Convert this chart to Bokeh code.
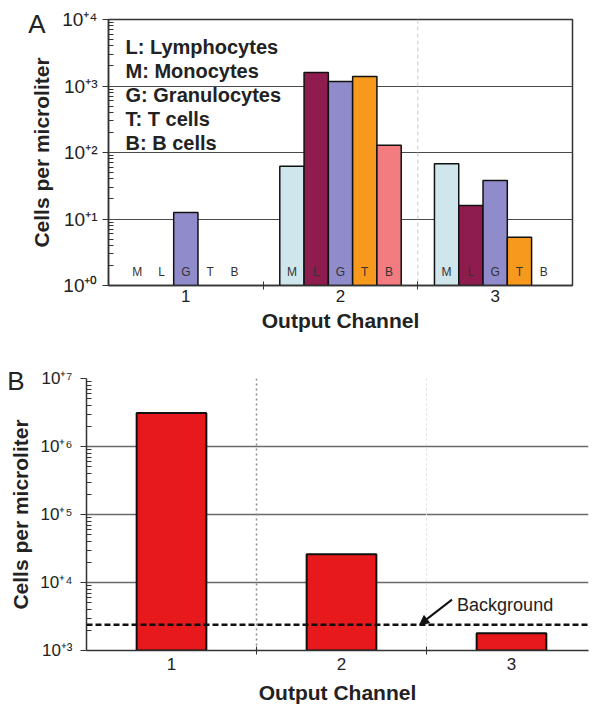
from bokeh.plotting import figure
from bokeh.models import FixedTicker, Label, Arrow, NormalHead, Span, LogAxis
from bokeh.core.properties import value
from bokeh.embed import file_html
from bokeh.resources import INLINE

# ---------------- data ----------------
channels = [1, 2, 3]
cell_types = ["M", "L", "G", "T", "B"]
legend_lines = ["L: Lymphocytes", "M: Monocytes", "G: Granulocytes",
                "T: T cells", "B: B cells"]
# Panel A: cells per microliter per channel, order M, L, G, T, B (0 = none)
counts_ch1 = [0, 0, 12.5, 0, 0]
counts_ch2 = [62, 1600, 1170, 1390, 128]
counts_ch3 = [68, 16, 38, 5.3, 0]
type_colors = ["#cfe7ec", "#8e1c4f", "#908bca", "#f7991c", "#f27c80"]

# Panel B: total cells per microliter per channel
total_counts = [3.1e6, 2.6e4, 1.8e3]
background_level = 2400

a_ticks = [1, 10, 100, 1000, 10000]
a_tick_labels = ["10⁺⁰", "10⁺¹", "10⁺²", "10⁺³", "10⁺⁴"]
b_ticks = [1e3, 1e4, 1e5, 1e6, 1e7]
b_tick_labels = ["10⁺³", "10⁺⁴", "10⁺⁵", "10⁺⁶", "10⁺⁷"]
channel_labels = ["1", "2", "3"]

FONT = "Liberation Sans"
AXC = "#333333"
TXT = "#222222"


def minor_log(ticks):
    out = []
    for t in ticks[:-1]:
        out += [t * k for k in range(2, 10)]
    return out


def style_axes(p, yticks, ylabels, tick_font_size):
    ya = p.yaxis[0]
    xa = p.xaxis[0]
    tk = FixedTicker(ticks=yticks, minor_ticks=minor_log(yticks))
    ya.ticker = tk
    p.ygrid[0].ticker = FixedTicker(ticks=yticks)
    ya.major_label_overrides = {t: l for t, l in zip(yticks, ylabels)}
    ya.major_label_text_font = FONT
    ya.major_label_text_font_size = tick_font_size
    ya.major_label_text_color = TXT
    ya.major_tick_in = 0
    ya.major_tick_out = 6
    ya.minor_tick_in = 5
    ya.minor_tick_out = 0
    ya.axis_label_text_font = FONT
    ya.axis_label_text_font_style = "bold"
    ya.axis_label_text_font_size = "21px"
    ya.axis_label_text_color = TXT
    ya.major_tick_line_color = AXC
    ya.minor_tick_line_color = AXC
    xa.ticker = FixedTicker(ticks=channels, minor_ticks=[1.5, 2.5])
    xa.major_label_overrides = {c: l for c, l in zip(channels, channel_labels)}
    xa.major_tick_line_color = None
    xa.major_tick_in = 0
    xa.major_tick_out = 4
    xa.minor_tick_in = 4
    xa.minor_tick_out = 4
    xa.minor_tick_line_color = AXC
    xa.major_label_text_font = FONT
    xa.major_label_text_font_size = "17px"
    xa.major_label_text_color = TXT
    xa.axis_label_text_font = FONT
    xa.axis_label_text_font_style = "bold"
    xa.axis_label_text_font_size = "21px"
    xa.axis_label_text_color = TXT
    for ax in (xa, ya):
        ax.axis_line_color = AXC
        ax.axis_line_width = 1.5
    p.xgrid.visible = False
    p.background_fill_color = "white"
    p.border_fill_color = "white"


def panel_letter(p, letter, yval, standoff):
    ax = LogAxis(ticker=FixedTicker(ticks=[yval], minor_ticks=[]),
                 major_label_overrides={yval: letter},
                 major_label_text_font=FONT, major_label_text_font_size="26px",
                 major_label_text_color=TXT, major_label_standoff=standoff,
                 axis_line_color=None, major_tick_line_color=None,
                 minor_tick_line_color=None, major_tick_out=0, major_tick_in=0)
    p.add_layout(ax, "left")


# ---------------- Panel A ----------------
pa = figure(width=590, height=350, x_range=(0.5, 3.5), y_range=(1, 1e4),
            y_axis_type="log", output_backend="svg", toolbar_location=None,
            min_border_left=108, min_border_right=18, min_border_top=19,
            min_border_bottom=65)
style_axes(pa, a_ticks, a_tick_labels, "19px")
pa.yaxis[0].major_label_standoff = 5
pa.yaxis[0].axis_label_standoff = 6
pa.xaxis[0].major_label_standoff = 0
pa.xaxis[0].axis_label_standoff = 4
pa.yaxis[0].axis_label = "Cells per microliter"
pa.xaxis[0].axis_label = "Output Channel"
pa.ygrid.grid_line_color = "#4a4a4a"
pa.ygrid.grid_line_width = 1
pa.outline_line_color = AXC
pa.outline_line_width = 1.5

pa.add_layout(Span(location=2.5, dimension="height", line_color="#c8c8c8",
                   line_dash="4 3", line_width=1, level="underlay"))

bar_w = 0.157
counts_a = [counts_ch1, counts_ch2, counts_ch3]
bx, btop, bcol, lx, lt = [], [], [], [], []
for c, vals in zip(channels, counts_a):
    for i, (t, v) in enumerate(zip(cell_types, vals)):
        x = c + (i - 2) * bar_w
        lx.append(x)
        lt.append(t)
        if v > 0:
            bx.append(x)
            btop.append(v)
            bcol.append(type_colors[i])
pa.vbar(x=bx, top=btop, bottom=1, width=bar_w, fill_color=bcol,
        line_color="#111111", line_width=1.5)
pa.text(x=lx, y=[1.62] * len(lx), text=lt, text_align="center",
        text_baseline="middle", text_font=value(FONT), text_font_size="12px",
        text_color="#333333")

leg_y = [10 ** (3.58 - i * 24 / 66.5) for i in range(len(legend_lines))]
pa.text(x=[0.61] * len(legend_lines), y=leg_y, text=legend_lines,
        text_align="left", text_baseline="middle", text_font=value(FONT),
        text_font_size="20px", text_font_style="bold", text_color=TXT)

panel_letter(pa, "A", 10 ** 3.925, -18)

# ---------------- Panel B ----------------
pb = figure(width=590, height=359, x_range=(0.5, 3.453), y_range=(1e3, 1e7),
            y_axis_type="log", output_backend="svg", toolbar_location=None,
            min_border_left=86, min_border_right=2, min_border_top=28,
            min_border_bottom=59)
style_axes(pb, b_ticks, b_tick_labels, "17px")
pb.yaxis[0].major_label_standoff = 8
pb.yaxis[0].axis_label_standoff = 5
pb.xaxis[0].major_label_standoff = 3
pb.xaxis[0].axis_label_standoff = 8
pb.yaxis[0].axis_label = "Cells per microliter"
pb.xaxis[0].axis_label = "Output Channel"
pb.ygrid.grid_line_color = "#6a6a6a"
pb.ygrid.grid_line_width = 1.5
pb.outline_line_color = None

pb.add_layout(Span(location=1.5, dimension="height", line_color="#8a8a8a",
                   line_dash="2 3", line_width=1.5, level="underlay"))
pb.add_layout(Span(location=2.5, dimension="height", line_color="#dddddd",
                   line_dash="2 3", line_width=1, level="underlay"))

pb.vbar(x=channels, top=total_counts, bottom=1e3, width=0.41,
        fill_color="#e8191c", line_color="#111111", line_width=2)
pb.add_layout(Span(location=background_level, dimension="width",
                   line_color="#111111", line_dash="6 3", line_width=2.5))
pb.add_layout(Arrow(end=NormalHead(size=9, fill_color="#111111",
                                   line_color="#111111"),
                    x_start=2.65, y_start=5600, x_end=2.46, y_end=background_level,
                    line_color="#111111", line_width=2))
pb.add_layout(Label(x=2.68, y=4600, text="Background", text_font=FONT,
                    text_font_size="18px", text_baseline="middle",
                    text_color=TXT))

panel_letter(pb, "B", 10 ** 6.97, -18)

open("out.html", "w").write(file_html([pa, pb], INLINE))
